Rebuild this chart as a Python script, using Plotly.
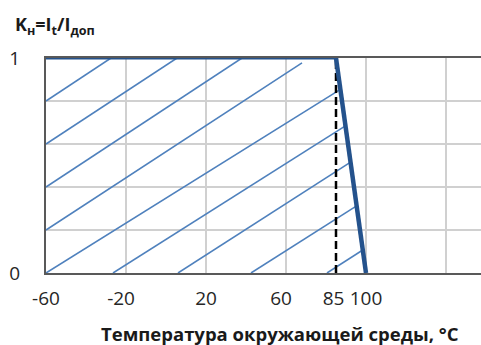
import plotly.graph_objects as go

# ---- data ----
x_tick_vals = [-60, -20, 20, 60, 85, 100]
x_tick_text = ["-60", "-20", "20", "60", "85", "100"]
y_tick_vals = [0, 1]
y_tick_text = ["0", "1"]

# boundary curve: Kн = 1 up to 85 °C, then falls to 0 at 100 °C
flat_x = [-60, 85]
flat_y = [1, 1]
drop_x = [85, 100]
drop_y = [1, 0]
dash_x = [85, 85]
dash_y = [0, 1]

# hatch lines (start / end points)
hatch_x0 = [-60, -60, -60, -60, -60, -26.5, 6, 42.5, 80.5]
hatch_y0 = [0.8, 0.6, 0.4, 0.2, 0.0, 0.0, 0.0, 0.0, 0.0]
hatch_x1 = [-27.5, 5.5, 38, 68, 87.2, 89.7, 92.3, 95.3, 98.4]
hatch_y1 = [1.0, 1.0, 1.0, 0.977, 0.854, 0.684, 0.516, 0.312, 0.107]

HATCH = "#4F81BD"
DARK = "#24528C"
FONT = "Open Sans"
NB = "\u00a0"
# small visual nudges of some tick labels (as in the original)
label_pad = {"-20": 2, "60": 2, "85": 1}
x_tick_disp = [t + NB * label_pad.get(t, 0) for t in x_tick_text]

fig = go.Figure()
for a, b, c, d in zip(hatch_x0, hatch_y0, hatch_x1, hatch_y1):
    fig.add_trace(go.Scatter(x=[a, c], y=[b, d], mode="lines",
                             line=dict(color=HATCH, width=1.6),
                             hoverinfo="skip", showlegend=False))
fig.add_trace(go.Scatter(x=dash_x, y=dash_y, mode="lines",
                         line=dict(color="black", width=2.5, dash="8px,4px"),
                         showlegend=False))
fig.add_trace(go.Scatter(x=flat_x, y=flat_y, mode="lines",
                         line=dict(color=DARK, width=3), showlegend=False))
fig.add_trace(go.Scatter(x=drop_x, y=drop_y, mode="lines",
                         line=dict(color=DARK, width=4.5), showlegend=False))

fig.update_layout(
    width=481, height=345,
    margin=dict(l=46, r=0, t=58, b=72),
    plot_bgcolor="white", paper_bgcolor="white",
    font=dict(family=FONT, color="#262626"),
    showlegend=False,
    xaxis=dict(range=[-60, 157.5], tickvals=x_tick_vals, ticktext=x_tick_disp,
               showgrid=False, zeroline=False, tickangle=0,
               showline=True, linecolor="#595959", linewidth=2, mirror=True,
               ticks="", ticklabelstandoff=7,
               tickfont=dict(size=19, family=FONT, color="#262626"),
               minor=dict(tick0=-60, dtick=40, showgrid=True,
                          gridcolor="#D0D0D0", gridwidth=1.5, ticks="")),
    yaxis=dict(range=[0, 1], tickvals=y_tick_vals, ticktext=y_tick_text,
               showgrid=True, gridcolor="#D0D0D0", gridwidth=1.5,
               zeroline=False, showline=True, linecolor="#595959",
               linewidth=2, ticks="", ticklabelstandoff=20,
               tickfont=dict(size=19, family=FONT, color="#262626"),
               minor=dict(tick0=0, dtick=0.2, showgrid=True,
                          gridcolor="#D0D0D0", gridwidth=1.5, ticks="")),
    annotations=[
        dict(text="<b>K<sub>н</sub>=I<sub>t</sub>/I<sub>доп</sub></b>",
             xref="paper", yref="paper", x=-0.076, y=1.152,
             xanchor="left", yanchor="middle", showarrow=False,
             font=dict(size=18, family=FONT, color="#1a1a1a")),
        dict(text="<b>Температура окружающей среды, °C</b>",
             xref="paper", yref="paper", x=0.538, y=-0.2837,
             xanchor="center", yanchor="middle", showarrow=False,
             font=dict(size=18.5, family=FONT, color="#1a1a1a")),
    ],
)

fig.write_html("out.html", config={"displayModeBar": False},
               post_script="document.body.style.margin='0px';")
